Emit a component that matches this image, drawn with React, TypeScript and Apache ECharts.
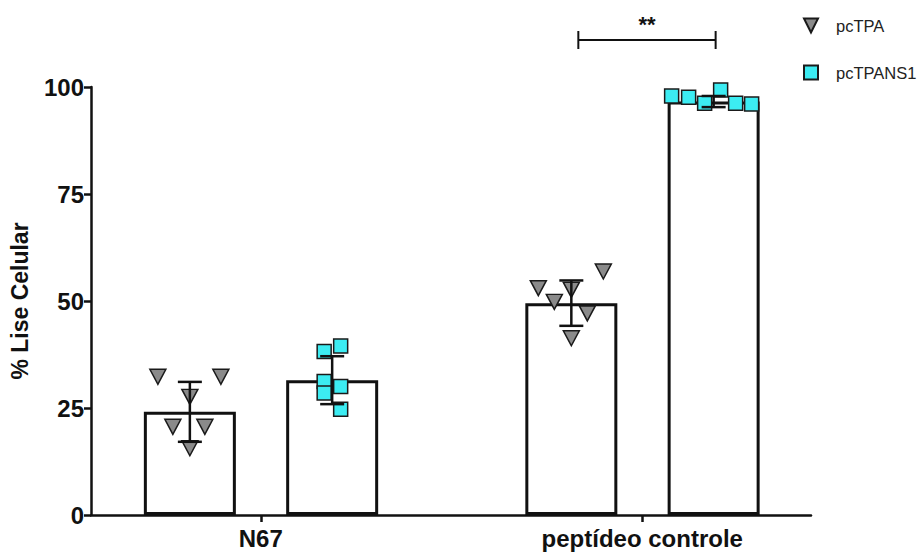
import React, { useEffect, useRef } from "react";
import * as echarts from "echarts";

// ---- data ----
const categories = ["N67", "peptídeo controle"];
const seriesNames = ["pcTPA", "pcTPANS1"];
const meanTPA = [24.1, 49.5];
const meanTPANS1 = [31.5, 96.6];
const sdTPA = [7.0, 5.3];
const sdTPANS1 = [5.6, 1.3];
const pointsTPA = [
  [32.3, 32.3, 27.6, 20.6, 20.6, 15.6],
  [53.0, 56.9, 52.6, 49.8, 47.1, 41.3],
];
const pointsTPANS1 = [
  [38.2, 39.5, 31.2, 30.0, 28.5, 24.7],
  [97.9, 97.6, 96.2, 99.3, 96.2, 96.0],
];
const yTicks = [0, 25, 50, 75, 100];
const significance = "**";

// ---- layout (axis units = px along the x axis) ----
const X_MAX = 721;
const GROUP_X = [170, 552];
const BAR_OFFSET = [-71, 71.5];
const jitterTPA = [
  [-32, 31, 0, -17, 15, 0],
  [-33, 32, 0, -17, 16, 0],
];
const jitterTPANS1 = [
  [-8, 8.5, -8, 8.5, -8, 8.5],
  [-42, -25, -9, 7, 22, 38],
];

const FONT = '"Liberation Sans", Arial, sans-serif';

export default function App() {
  const ref = useRef<HTMLDivElement>(null);
  useEffect(() => {
    if (!ref.current) return;
    const chart = echarts.init(ref.current, undefined, { renderer: "svg" });

    const barX = (g: number, s: number) => GROUP_X[g] + BAR_OFFSET[s];
    const means = [meanTPA, meanTPANS1];
    const sds = [sdTPA, sdTPANS1];
    const pts = [pointsTPA, pointsTPANS1];
    const jit = [jitterTPA, jitterTPANS1];

    const barData: any[] = [];
    const errData: any[] = [];
    categories.forEach((_, g) => {
      [0, 1].forEach((s) => {
        barData.push([barX(g, s), means[s][g]]);
        errData.push([barX(g, s), means[s][g], sds[s][g]]);
      });
    });

    const scatterData = (s: number) => {
      const out: any[] = [];
      categories.forEach((_, g) => {
        pts[s][g].forEach((v, i) => {
          out.push({ value: [barX(g, s), v], symbolOffset: [jit[s][g][i], 0] });
        });
      });
      return out;
    };

    const option: any = {
      animation: false,
      backgroundColor: "#ffffff",
      grid: { left: 90, right: 108, top: 87, bottom: 40 },
      legend: {
        orient: "vertical",
        left: 798,
        top: 12,
        itemWidth: 14,
        itemHeight: 14,
        itemGap: 30,
        textStyle: { fontFamily: FONT, fontSize: 16.5, color: "#222", padding: [0, 0, 0, 13] },
        data: [
          { name: seriesNames[0], icon: "path://M0,0L10,0L5,10Z" },
          { name: seriesNames[1], icon: "rect" },
        ],
      },
      xAxis: {
        type: "value",
        min: 0,
        max: X_MAX,
        splitLine: { show: false },
        axisLine: { show: true, onZero: false, lineStyle: { color: "#111", width: 2.5 } },
        axisTick: {
          show: true,
          customValues: GROUP_X,
          length: 7,
          lineStyle: { color: "#111", width: 2.5 },
        },
        axisLabel: {
          customValues: GROUP_X,
          formatter: (v: number) => categories[GROUP_X.indexOf(v)] ?? "",
          fontFamily: FONT,
          fontWeight: "bold",
          fontSize: 24,
          color: "#111",
          margin: 11,
        },
      },
      yAxis: {
        type: "value",
        min: 0,
        max: 100,
        interval: 25,
        name: "% Lise Celular",
        nameLocation: "middle",
        nameRotate: 90,
        nameGap: 60,
        nameTextStyle: { fontFamily: FONT, fontWeight: "bold", fontSize: 23, color: "#111" },
        splitLine: { show: false },
        axisLine: { show: true, lineStyle: { color: "#111", width: 2.5 } },
        axisTick: { show: true, length: 7, lineStyle: { color: "#111", width: 2.5 } },
        axisLabel: {
          fontFamily: FONT,
          fontWeight: "bold",
          fontSize: 24,
          color: "#111",
          margin: 7,
          formatter: (v: number) => (yTicks.includes(v) ? String(v) : ""),
        },
      },
      series: [
        {
          type: "bar",
          name: "bars",
          data: barData,
          barWidth: 92,
          itemStyle: { color: "#ffffff", borderColor: "#111", borderWidth: 3 },
          z: 1,
        },
        {
          type: "scatter",
          name: seriesNames[0],
          data: scatterData(0),
          symbol: "triangle",
          symbolRotate: 180,
          symbolSize: [16, 15],
          itemStyle: { color: "#8a8a8a", borderColor: "#1a1a1a", borderWidth: 1.5, opacity: 1 },
          z: 3,
        },
        {
          type: "scatter",
          name: seriesNames[1],
          data: scatterData(1),
          symbol: "rect",
          symbolSize: 14,
          itemStyle: { color: "#3cecf2", borderColor: "#1a1a1a", borderWidth: 1.5, opacity: 1 },
          z: 3,
        },
        {
          type: "custom",
          name: "err",
          data: errData,
          encode: { x: 0, y: 1 },
          z: 4,
          renderItem: (params: any, api: any) => {
            const x = api.value(0);
            const m = api.value(1);
            const s = api.value(2);
            const top = api.coord([x, m + s]);
            const bot = api.coord([x, m - s]);
            const half = 12;
            const st = { stroke: "#111", lineWidth: 2.5 };
            return {
              type: "group",
              children: [
                { type: "line", shape: { x1: top[0], y1: top[1], x2: bot[0], y2: bot[1] }, style: st },
                { type: "line", shape: { x1: top[0] - half, y1: top[1], x2: top[0] + half, y2: top[1] }, style: st },
                { type: "line", shape: { x1: bot[0] - half, y1: bot[1], x2: bot[0] + half, y2: bot[1] }, style: st },
              ],
            };
          },
        },
      ],
    };
    chart.setOption(option);

    // significance bracket between the two bars of the second group
    const left = chart.convertToPixel({ gridIndex: 0 }, [barX(1, 0), 100]);
    const right = chart.convertToPixel({ gridIndex: 0 }, [barX(1, 1), 100]);
    const x1 = left[0] + 7;
    const x2 = right[0] + 2;
    const y = left[1] - 47;
    const st = { stroke: "#111", lineWidth: 2 };
    chart.setOption({
      graphic: [
        { type: "line", shape: { x1, y1: y, x2, y2: y }, style: st },
        { type: "line", shape: { x1, y1: y - 9, x2: x1, y2: y + 9 }, style: st },
        { type: "line", shape: { x1: x2, y1: y - 9, x2, y2: y + 9 }, style: st },
        {
          type: "text",
          x: (x1 + x2) / 2,
          y: y - 5,
          style: {
            text: significance,
            fontFamily: FONT,
            fontWeight: "bold",
            fontSize: 22,
            fill: "#111",
            align: "center",
            verticalAlign: "bottom",
          },
        },
      ],
    });

    return () => chart.dispose();
  }, []);
  return (
    <div
      ref={ref}
      style={{ position: "fixed", left: 0, top: 0, width: 919, height: 555, background: "#fff" }}
    />
  );
}
